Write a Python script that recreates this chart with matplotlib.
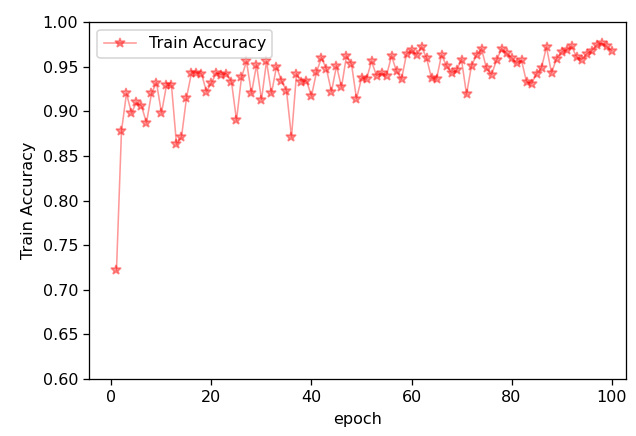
import matplotlib
matplotlib.use("Agg")
import matplotlib.pyplot as plt

epochs = list(range(1, 101))
train_acc = [
    0.722, 0.878, 0.920, 0.898, 0.910, 0.906, 0.887, 0.920, 0.932, 0.898,
    0.929, 0.929, 0.863, 0.871, 0.915, 0.943, 0.943, 0.942, 0.922, 0.932,
    0.943, 0.941, 0.942, 0.933, 0.890, 0.938, 0.956, 0.920, 0.952, 0.913,
    0.956, 0.920, 0.950, 0.934, 0.923, 0.871, 0.942, 0.933, 0.934, 0.917,
    0.944, 0.960, 0.947, 0.922, 0.951, 0.927, 0.962, 0.953, 0.914, 0.937,
    0.936, 0.956, 0.940, 0.943, 0.940, 0.962, 0.945, 0.936, 0.964, 0.969,
    0.963, 0.972, 0.960, 0.937, 0.936, 0.963, 0.951, 0.943, 0.946, 0.958,
    0.919, 0.951, 0.963, 0.970, 0.948, 0.941, 0.957, 0.970, 0.965, 0.960,
    0.954, 0.957, 0.933, 0.931, 0.942, 0.949, 0.972, 0.943, 0.959, 0.966,
    0.969, 0.973, 0.961, 0.958, 0.964, 0.968, 0.974, 0.976, 0.973, 0.968,
]

# rendered a bit larger than 100 dpi in the screenshot
dpi = 115
fig = plt.figure(figsize=(636 / dpi, 436 / dpi), dpi=dpi)
ax = fig.add_axes([0.1407, 0.1307, 0.8436, 0.8188])

ax.plot(epochs, train_acc, color="red", marker="*", alpha=0.4,
        linewidth=1, markersize=6.5, label="Train Accuracy")
ax.set_xlim(-4.4, 102.9)
ax.set_ylim(0.6, 1.0)
ax.set_xlabel("epoch")
ax.set_ylabel("Train Accuracy")
ax.legend(loc="upper left")

fig.savefig("out.png", dpi=dpi)
